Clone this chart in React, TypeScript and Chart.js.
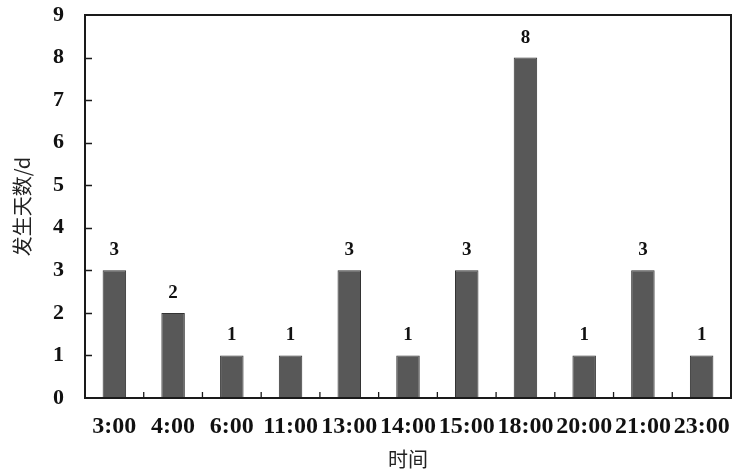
import React, { useRef, useEffect } from "react";
import { Chart, registerables } from "chart.js";

Chart.register(...registerables);

const categories = ["3:00", "4:00", "6:00", "11:00", "13:00", "14:00", "15:00", "18:00", "20:00", "21:00", "23:00"];
const dayCounts = [3, 2, 1, 1, 3, 1, 3, 8, 1, 3, 1];
const yMin = 0;
const yMax = 9;
const yStep = 1;

const serif = "'Liberation Serif', 'Times New Roman', serif";
const cjk = "'Noto Sans CJK SC', sans-serif";

// frame box, inward tick marks and value labels above bars
const decorations = {
  id: "decorations",
  afterDatasetsDraw(chart: any) {
    const { ctx, chartArea } = chart;
    const { left, right, top, bottom } = chartArea;
    const xScale = chart.scales.x;
    const yScale = chart.scales.y;
    ctx.save();
    ctx.strokeStyle = "#1a1a1a";
    ctx.lineWidth = 1.3;
    ctx.beginPath();
    yScale.ticks.forEach((_t: any, i: number) => {
      const y = Math.round(yScale.getPixelForTick(i)) + 0.5;
      if (y <= top + 1 || y >= bottom - 1) return;
      ctx.moveTo(left, y);
      ctx.lineTo(left + 7, y);
    });
    const n = xScale.ticks.length;
    for (let i = 1; i < n; i++) {
      const x = (xScale.getPixelForTick(i - 1) + xScale.getPixelForTick(i)) / 2;
      ctx.moveTo(x, bottom);
      ctx.lineTo(x, bottom - 6);
    }
    ctx.stroke();

    ctx.lineWidth = 2;
    ctx.strokeRect(left, top, right - left, bottom - top);

    ctx.fillStyle = "#111";
    ctx.font = `bold 19px ${serif}`;
    ctx.textAlign = "center";
    ctx.textBaseline = "alphabetic";
    const meta = chart.getDatasetMeta(0);
    meta.data.forEach((bar: any, i: number) => {
      ctx.fillText(String(dayCounts[i]), bar.x, bar.y - 15);
    });
    ctx.restore();
  },
};

const App = () => {
  const chartRef = useRef<HTMLCanvasElement>(null);
  const chartInstanceRef = useRef<Chart | null>(null);

  useEffect(() => {
    document.body.style.margin = "0";
    if (chartRef.current && !chartInstanceRef.current) {
      const context = chartRef.current.getContext("2d");
      if (context) {
        chartInstanceRef.current = new Chart(context, {
          type: "bar",
          data: {
            labels: categories,
            datasets: [
              {
                label: "发生天数",
                data: dayCounts,
                backgroundColor: "#585858",
                borderColor: "#333333",
                borderWidth: 1,
                barPercentage: 0.4,
                categoryPercentage: 1,
              },
            ],
          },
          options: {
            animation: false,
            responsive: true,
            maintainAspectRatio: false,
            layout: {
              padding: { left: 8, right: 6, top: 15, bottom: 2 },
            },
            scales: {
              x: {
                type: "category",
                grid: { display: false, drawTicks: false },
                border: { display: false },
                ticks: {
                  color: "#111",
                  font: { family: serif, size: 24, weight: "bold" },
                  padding: 14,
                  autoSkip: false,
                  maxRotation: 0,
                },
                title: {
                  display: true,
                  text: "时间",
                  color: "#222",
                  font: { family: cjk, size: 20 },
                  padding: { top: 0, bottom: 0 },
                },
                afterFit: (scale: any) => {
                  scale.height = 73;
                  scale.paddingLeft = 0;
                  scale.paddingRight = 0;
                },
              },
              y: {
                min: yMin,
                max: yMax,
                grid: { display: false, drawTicks: false },
                border: { display: false },
                ticks: {
                  stepSize: yStep,
                  color: "#111",
                  font: { family: serif, size: 22, weight: "bold" },
                  padding: 21,
                },
                title: {
                  display: true,
                  text: "发生天数/d",
                  color: "#222",
                  font: { family: cjk, size: 20 },
                  padding: { top: 2, bottom: 0 },
                },
                afterFit: (scale: any) => {
                  scale.width = 77;
                  scale.paddingTop = 0;
                  scale.paddingBottom = 0;
                },
              },
            },
            plugins: {
              legend: { display: false },
              tooltip: { enabled: false },
            },
          },
          plugins: [decorations],
        });
      }
    }
    return () => {
      if (chartInstanceRef.current) {
        chartInstanceRef.current.destroy();
        chartInstanceRef.current = null;
      }
    };
  }, []);

  return (
    <div style={{ width: 737, height: 473, background: "#fff" }}>
      <canvas ref={chartRef} />
    </div>
  );
};

export default App;
